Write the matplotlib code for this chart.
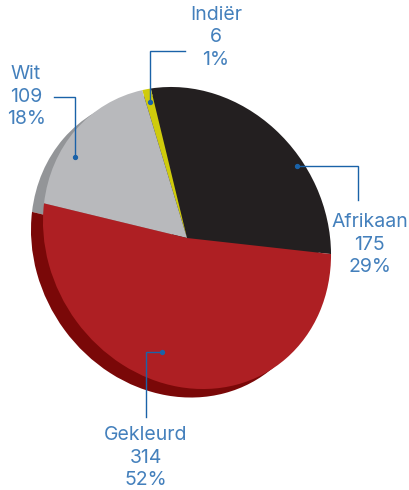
import matplotlib.pyplot as plt
from matplotlib.transforms import Affine2D

W, H = 409, 490

groups = ["Afrikaan", "Indiër", "Wit", "Gekleurd"]
counts = [175, 6, 109, 314]
percents = [29, 1, 18, 52]

top_colors = ["#231F20", "#CFCB0C", "#B8B9BC", "#AE1F23"]
side_colors = ["#231F20", "#CFCB0C", "#939598", "#7A0808"]

TEXT_COL = "#4480BC"
LINE_COL = "#1A62A8"

plt.rcParams["font.family"] = ["Inter", "DejaVu Sans"]

fig = plt.figure(figsize=(W / 100, H / 100), dpi=100)
ax = fig.add_axes([0, 0, 1, 1])
ax.set_xlim(0, W)
ax.set_ylim(H, 0)
ax.axis("off")


def draw_disc(colors, cx, cy, z):
    # the pie is a tilted disc, so it is squashed along a slanted axis
    wedges, _ = ax.pie(counts, colors=colors, startangle=53.6, counterclock=True,
                       radius=1, wedgeprops=dict(linewidth=0))
    tilt = Affine2D().scale(156.2, 138.4).rotate_deg(-56.6).translate(cx, H - cy)
    for w in wedges:
        w.set_transform(tilt)
        w.set_clip_on(False)
        w.set_zorder(z)


draw_disc(side_colors, 175, 246.5, 1)
draw_disc(top_colors, 187, 238, 2)

# pie() resets the limits and the aspect
ax.set_aspect("auto")
ax.set_xlim(0, W)
ax.set_ylim(H, 0)

# text x, first line y, leader path
label_pos = [
    (369.5, 222, [(358, 200), (358, 166), (297, 166)]),
    (216, 15, [(185, 51), (150, 51), (150, 102)]),
    (26, 74, [(54, 97), (75, 97), (75, 157)]),
    (146, 435, [(146, 417), (146, 352), (162, 352)]),
]

for name, n, pct, (tx, ty, path) in zip(groups, counts, percents, label_pos):
    lines = [name, str(n), f"{pct}%"]
    for i, line in enumerate(lines):
        ax.text(tx, ty + i * 22.5, line, color=TEXT_COL, fontsize=14,
                ha="center", va="center", zorder=5)
    xs = [p[0] for p in path]
    ys = [p[1] for p in path]
    ax.plot(xs, ys, color=LINE_COL, lw=1.0, solid_joinstyle="miter", zorder=4)
    ax.plot(xs[-1], ys[-1], "o", color=LINE_COL, ms=2.8, zorder=4)

fig.savefig("out.png", dpi=100, facecolor="white")
